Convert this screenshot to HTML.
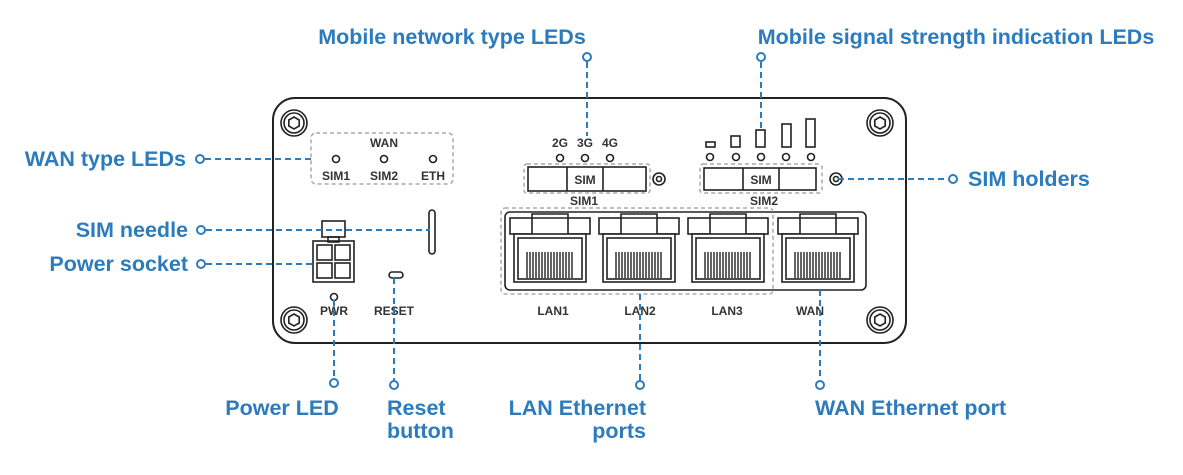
<!DOCTYPE html><html><head><style>body{margin:0;background:#fff}svg{display:block}
.c{font-family:"Liberation Sans",sans-serif;font-weight:bold;font-size:21.5px;fill:#2b7bbd}
.d{font-family:"Liberation Sans",sans-serif;font-weight:bold;font-size:12px;fill:#333}
.l{stroke:#2b7bbd;stroke-width:2;stroke-dasharray:6,4;fill:none}
.dot{fill:#fff;stroke:#2b7bbd;stroke-width:2}
.g{fill:none;stroke:#aaa;stroke-width:1.5;stroke-dasharray:4,3}
.s{fill:none;stroke:#222;stroke-width:1.6}
</style></head><body>
<svg width="1183" height="475" viewBox="0 0 1183 475">
<defs>
<g id="scr"><circle r="13" class="s" stroke-width="2"/><circle r="10" class="s" stroke-width="1"/><polygon points="0,-6 5.2,-3 5.2,3 0,6 -5.2,3 -5.2,-3" class="s"/></g>
<g id="port" class="s">
<rect x="0" y="6" width="80" height="16" fill="#fff"/>
<path d="M22,22 V2 H58 V22" fill="#fff"/><line x1="22" y1="6" x2="58" y2="6"/>
<rect x="4" y="22" width="72" height="48" fill="#fff"/>
<rect x="8" y="26" width="64" height="41"/>
<path d="M20,66 V40 M23,66 V40 M26,66 V40 M29,66 V40 M32,66 V40 M35,66 V40 M38,66 V40 M41,66 V40 M44,66 V40 M47,66 V40 M50,66 V40 M53,66 V40 M56,66 V40 M59,66 V40" stroke-width="1.4"/>
<path d="M17,40 V66 M62,40 V66" stroke-width="1.4"/>
</g>
</defs>
<rect x="273" y="98" width="633" height="245" rx="22" fill="#fff" stroke="#222" stroke-width="2"/>
<use href="#scr" x="294" y="123"/><use href="#scr" x="294" y="320"/><use href="#scr" x="880" y="123"/><use href="#scr" x="880" y="320"/>
<rect x="311" y="133" width="142" height="51" rx="5" class="g"/>
<text x="384" y="147" class="d" text-anchor="middle">WAN</text>
<circle cx="336" cy="159" r="3.5" class="s"/><circle cx="384" cy="159" r="3.5" class="s"/><circle cx="433" cy="159" r="3.5" class="s"/>
<text x="336" y="180" class="d" text-anchor="middle">SIM1</text><text x="384" y="180" class="d" text-anchor="middle">SIM2</text><text x="433" y="180" class="d" text-anchor="middle">ETH</text>
<rect x="322" y="221" width="23" height="16" class="s"/><rect x="328" y="237" width="11" height="5" class="s"/>
<rect x="313" y="241" width="41" height="41" class="s" stroke-width="2"/>
<rect x="317" y="245" width="15" height="15" class="s" stroke-width="1.2"/><rect x="335" y="245" width="15" height="15" class="s" stroke-width="1.2"/>
<rect x="317" y="263" width="15" height="15" class="s" stroke-width="1.2"/><rect x="335" y="263" width="15" height="15" class="s" stroke-width="1.2"/>
<circle cx="334" cy="297" r="3.5" class="s"/>
<text x="334" y="315" class="d" text-anchor="middle">PWR</text>
<rect x="389" y="272" width="14" height="6" rx="3" class="s"/>
<text x="394" y="315" class="d" text-anchor="middle">RESET</text>
<rect x="429" y="210" width="6" height="44" rx="3" class="s"/>
<text x="560" y="147" class="d" text-anchor="middle">2G</text><text x="585" y="147" class="d" text-anchor="middle">3G</text><text x="610" y="147" class="d" text-anchor="middle">4G</text>
<circle cx="560" cy="158" r="3.5" class="s"/><circle cx="585" cy="158" r="3.5" class="s"/><circle cx="610" cy="158" r="3.5" class="s"/>
<rect x="524" y="164" width="126" height="29" rx="3" class="g"/>
<rect x="528" y="167" width="118" height="24" class="s" stroke-width="2.2"/><line x1="567" y1="167" x2="567" y2="191" class="s"/><line x1="603" y1="167" x2="603" y2="191" class="s"/>
<text x="585" y="184" class="d" font-size="11" text-anchor="middle">SIM</text>
<circle cx="659" cy="179" r="6" class="s"/><circle cx="659" cy="179" r="2.5" class="s"/>
<text x="584" y="205" class="d" font-size="13" text-anchor="middle">SIM1</text>
<rect x="706" y="142" width="9" height="5" class="s"/><rect x="731" y="136" width="9" height="11" class="s"/><rect x="756" y="130" width="9" height="17" class="s"/><rect x="782" y="124" width="9" height="23" class="s"/><rect x="806" y="119" width="9" height="28" class="s"/>
<circle cx="710" cy="157" r="3.5" class="s"/><circle cx="736" cy="157" r="3.5" class="s"/><circle cx="761" cy="157" r="3.5" class="s"/><circle cx="786" cy="157" r="3.5" class="s"/><circle cx="811" cy="157" r="3.5" class="s"/>
<rect x="700" y="164" width="122" height="29" rx="3" class="g"/>
<rect x="704" y="168" width="112" height="22" class="s" stroke-width="2.2"/><line x1="743" y1="168" x2="743" y2="190" class="s"/><line x1="779" y1="168" x2="779" y2="190" class="s"/>
<text x="761" y="184" class="d" font-size="11" text-anchor="middle">SIM</text>
<circle cx="836" cy="179" r="6" class="s"/><circle cx="836" cy="179" r="2.5" class="s"/>
<text x="764" y="205" class="d" font-size="13" text-anchor="middle">SIM2</text>
<rect x="505" y="212" width="361" height="78" rx="5" class="s"/>
<rect x="501" y="208" width="272" height="86" rx="4" class="g"/>
<use href="#port" x="510" y="212"/><use href="#port" x="599" y="212"/><use href="#port" x="688" y="212"/><use href="#port" x="778" y="212"/>
<text x="553" y="315" class="d" text-anchor="middle">LAN1</text><text x="640" y="315" class="d" text-anchor="middle">LAN2</text><text x="727" y="315" class="d" text-anchor="middle">LAN3</text><text x="810" y="315" class="d" text-anchor="middle">WAN</text>
<path class="l" d="M587,62 V136 M761,62 V128 M205,159 H311 M838,179 H948 M206,230 H430 M206,264 H313 M334,300 V378 M394,278 V380 M640,294 V380 M820,290 V380"/>
<circle cx="587" cy="57" r="4" class="dot"/><circle cx="761" cy="57" r="4" class="dot"/><circle cx="200" cy="159" r="4" class="dot"/><circle cx="953" cy="179" r="4" class="dot"/><circle cx="201" cy="230" r="4" class="dot"/><circle cx="201" cy="264" r="4" class="dot"/><circle cx="334" cy="383" r="4" class="dot"/><circle cx="394" cy="385" r="4" class="dot"/><circle cx="640" cy="385" r="4" class="dot"/><circle cx="820" cy="385" r="4" class="dot"/>
<text x="452" y="44" class="c" text-anchor="middle">Mobile network type LEDs</text>
<text x="956" y="44" class="c" text-anchor="middle">Mobile signal strength indication LEDs</text>
<text x="186" y="166" class="c" text-anchor="end">WAN type LEDs</text>
<text x="968" y="186" class="c">SIM holders</text>
<text x="188" y="237" class="c" text-anchor="end">SIM needle</text>
<text x="188" y="271" class="c" text-anchor="end">Power socket</text>
<text x="282" y="415" class="c" text-anchor="middle">Power LED</text>
<text x="387" y="415" class="c">Reset</text><text x="387" y="438" class="c">button</text>
<text x="646" y="415" class="c" text-anchor="end">LAN Ethernet</text><text x="646" y="438" class="c" text-anchor="end">ports</text>
<text x="815" y="415" class="c">WAN Ethernet port</text>
</svg></body></html>
